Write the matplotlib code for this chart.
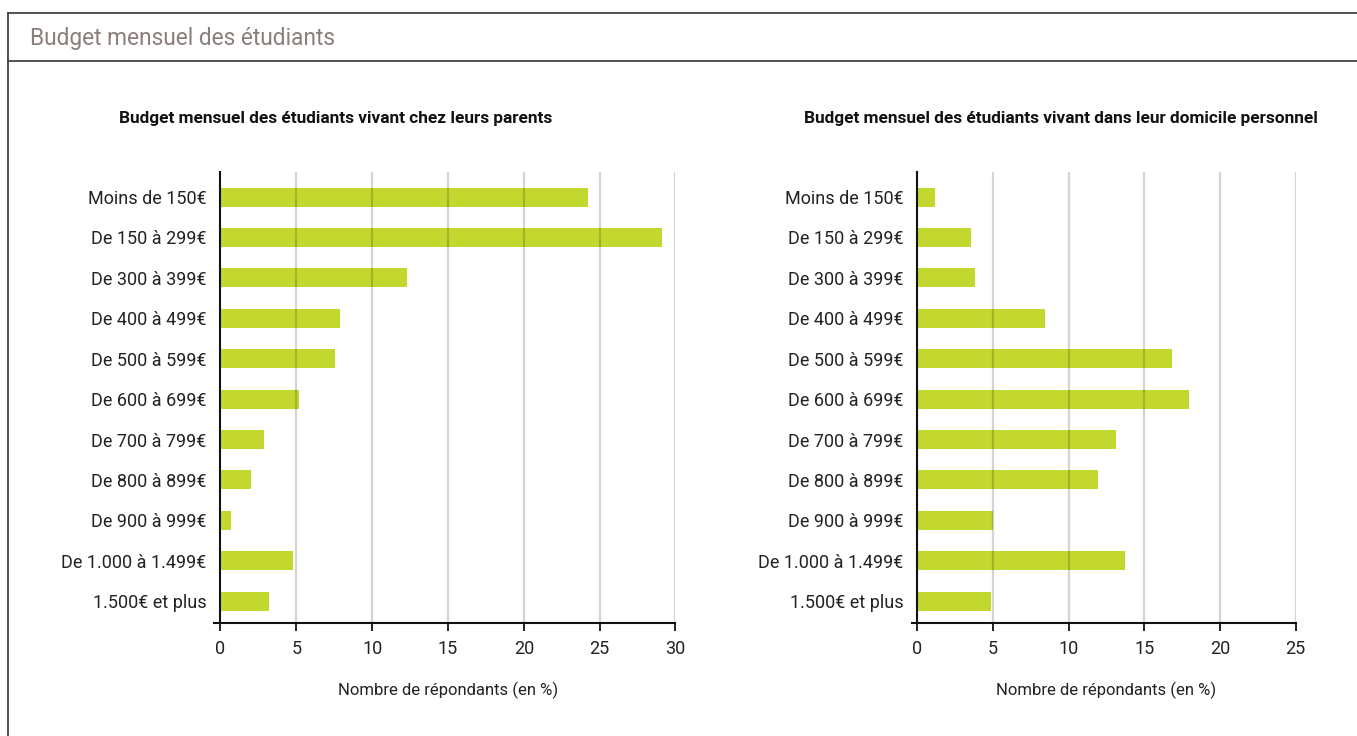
from matplotlib import pyplot as plt
from matplotlib.lines import Line2D

# données (en %)
categories = ['Moins de 150€', 'De 150 à 299€', 'De 300 à 399€', 'De 400 à 499€',
              'De 500 à 599€', 'De 600 à 699€', 'De 700 à 799€', 'De 800 à 899€',
              'De 900 à 999€', 'De 1.000 à 1.499€', '1.500€ et plus']
parents = [24.2, 29.1, 12.3, 7.9, 7.55, 5.2, 2.9, 2.0, 0.7, 4.8, 3.2]
domicile = [1.15, 3.55, 3.8, 8.45, 16.85, 17.95, 13.15, 11.95, 5.0, 13.7, 4.9]
ticks_parents = [0, 5, 10, 15, 20, 25, 30]
ticks_domicile = [0, 5, 10, 15, 20, 25]

plt.rcParams['font.family'] = ['Roboto', 'DejaVu Sans']

W, H = 1357, 736
fig = plt.figure(figsize=(W / 100, H / 100), dpi=100)
fig.patch.set_facecolor('white')

vert = '#c3d82f'
texte = '#222222'

# cadre et bandeau de titre
for y in (13, 61):
    fig.add_artist(Line2D([8 / W, 1], [1 - y / H, 1 - y / H], color='#444444', lw=1.3,
                          transform=fig.transFigure))
fig.add_artist(Line2D([8 / W, 8 / W], [0, 1 - 13 / H], color='#444444', lw=1.3,
                      transform=fig.transFigure))
fig.text(30 / W, 1 - 38 / H, 'Budget mensuel des étudiants', fontsize=16.4,
         color='#8b7f7b', va='center', ha='left')


def dessine(rect, valeurs, ticks, titre, xtitre):
    ax = fig.add_axes(rect)
    pos = list(range(len(categories)))
    ax.barh(pos, valeurs, height=0.47, color=vert, zorder=2)
    ax.set_ylim(10.54, -0.62)
    ax.set_xlim(ticks[0], ticks[-1])
    ax.set_xticks(ticks)
    ax.set_yticks(pos)
    ax.set_yticklabels(categories)
    for t in ticks[1:]:
        ax.axvline(t, color='black', alpha=0.17, lw=1.6, zorder=3)
    for s in ('top', 'right'):
        ax.spines[s].set_visible(False)
    ax.spines['left'].set_color('#111111')
    ax.spines['left'].set_linewidth(1.5)
    ax.spines['left'].set_zorder(4)
    ax.spines['bottom'].set_color('#111111')
    ax.spines['bottom'].set_linewidth(1.5)
    ax.spines['bottom'].set_bounds(ticks[0] - (ticks[-1] - ticks[0]) * 0.015, ticks[-1])
    ax.tick_params(axis='y', length=0, pad=10, labelsize=13, labelcolor=texte)
    ax.tick_params(axis='x', length=6, width=1.3, color='#111111', pad=6,
                   labelsize=13, labelcolor=texte)
    ax.set_xlabel('Nombre de répondants (en %)', fontsize=12, color=texte, labelpad=17)
    fig.text(xtitre / W, 1 - 118 / H, titre, fontsize=12.4, fontweight='bold',
             color='#111111', ha='center', va='center')
    return ax


ax1 = dessine([220.5 / W, 1 - 623 / H, 455 / W, 451 / H], parents, ticks_parents,
              'Budget mensuel des étudiants vivant chez leurs parents', 335.5)
ax2 = dessine([917.3 / W, 1 - 623 / H, 378.4 / W, 451 / H], domicile, ticks_domicile,
              'Budget mensuel des étudiants vivant dans leur domicile personnel', 1060.5)

plt.savefig('out.png', dpi=100)
